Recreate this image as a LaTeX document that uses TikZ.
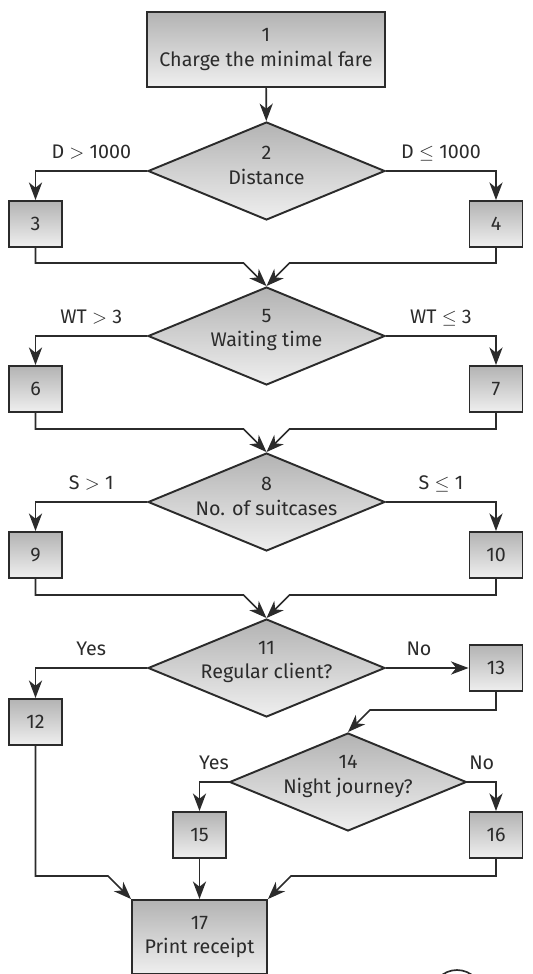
\documentclass[tikz,border=0pt]{standalone}
\usepackage{fontspec}
\setmainfont{Fira Sans}
\usetikzlibrary{calc}
\usetikzlibrary{arrows.meta}
\usetikzlibrary{shapes.geometric}

\definecolor{linec}{HTML}{2B2B2B}
\definecolor{shadetop}{HTML}{B3B3B3}
\definecolor{shadebot}{HTML}{EFEFEF}

\begin{document}
\begin{tikzpicture}[x=0.02cm, y=-0.02cm,
  font=\fontsize{11.2}{14.2}\selectfont, text=linec,
  line width=0.95pt, draw=linec,
  >={Stealth[length=10pt,width=7.5pt,inset=3pt]},
  box/.style={draw=linec, line width=1.1pt, top color=shadetop, bottom color=shadebot,
    minimum width=1.06cm, minimum height=0.92cm, inner sep=0, align=center},
  bigbox/.style={box, minimum width=4.76cm, minimum height=1.5cm},
  decision/.style={diamond, draw=linec, line width=1.1pt, top color=shadetop, bottom color=shadebot,
    minimum width=4.74cm, minimum height=1.96cm, inner sep=0},
  txt/.style={align=center, inner sep=0, yshift=3.4pt},
  cond/.style={anchor=base, yshift=7pt, inner sep=0}]
\path[use as bounding box, clip] (0,0) rectangle (532,974);

\node[bigbox] (b1) at (266,49.5) {1\\Charge the minimal fare};

% three identical two-way stages
\foreach \n/\y/\name/\lab/\rab in {2/171/Distance/D $>$ 1000/D $\leq$ 1000,
  5/336/Waiting time/WT $>$ 3/WT $\leq$ 3,
  8/502/No. of suitcases/S $>$ 1/S $\leq$ 1} {
 \pgfmathtruncatemacro{\l}{\n+1}
 \pgfmathtruncatemacro{\r}{\n+2}
 \node[decision] (d\n) at (266.5,\y) {};
 \node[txt] (t\n) at (d\n) {\n\\\name};
 \node[box] (b\l) at (35.5,\y+53) {\l};
 \node[box] (b\r) at (496,\y+53) {\r};
 \draw[->] (d\n.west) -| node[cond, pos=.25] {\lab} (b\l);
 \draw[->] (d\n.east) -| node[cond, pos=.25] {\rab} (b\r);
}

\node[decision] (d11) at (266.5,668) {};
\node[txt] (t11) at (d11) {11\\Regular client?};
\node[box] (b12) at (35.5,722) {12};
\node[box] (b13) at (496,668) {13};
\node[decision] (d14) at (348,782) {};
\node[txt] (t14) at (d14) {14\\Night journey?};
\node[box] (b15) at (199.5,835) {15};
\node[box] (b16) at (496,835) {16};
\node[bigbox, minimum width=2.7cm, minimum height=1.48cm] (b17) at (199.5,937) {17\\Print receipt};

% joins into the next diamond
\draw[->] (b1) -- (d2);
\foreach \a/\b/\c in {3/4/5, 6/7/8, 9/10/11} {
 \draw[->] (b\a) |- ($(d\c.north)+(-23,-23)$) -- (d\c.north);
 \draw[->] (b\b) |- ($(d\c.north)+(23,-23)$) -- (d\c.north);
}

\draw[->] (d11.west) -| node[cond, pos=.25] {Yes} (b12);
\draw[->] (d11.east) -- node[cond, pos=.4] {No} (b13.west);
\draw[->] (b13) |- ($(d14.north)+(22,-22)$) -- (d14.north);
\draw[->] (d14.west) -| node[cond, pos=.25] {Yes} (b15);
\draw[->] (d14.east) -| node[cond, pos=.25] {No} (b16);

\draw[->] (b12) |- ($(b17.north west)+(-23,-23)$) -- (b17.north west);
\draw[->] (b15) -- (b17);
\draw[->] (b16) |- ($(b17.north east)+(23,-23)$) -- (b17.north east);

\draw (457,995) circle[radius=0.5cm];
\end{tikzpicture}
\end{document}
